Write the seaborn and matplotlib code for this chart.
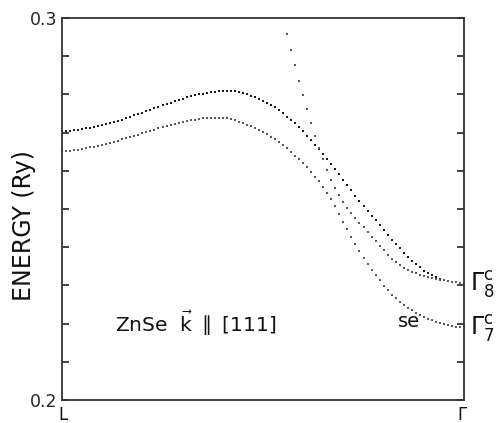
import numpy as np
import pandas as pd
import matplotlib
matplotlib.use("Agg")
import matplotlib.pyplot as plt
import seaborn as sns

# wave-vector along L -> Gamma as fraction of the path (0 = L, 1 = Gamma)
k_full = [round(0.01 * i, 2) for i in range(101)]

# upper conduction band from L (doubly degenerate), ends at Gamma8c
band_upper = [
    0.2704, 0.2704, 0.2705, 0.2706, 0.2707, 0.2709, 0.2711, 0.2713, 0.2715, 0.2717,
    0.2719, 0.2722, 0.2725, 0.2728, 0.2731, 0.2734, 0.2737, 0.2741, 0.2745, 0.2749,
    0.2752, 0.2756, 0.2760, 0.2764, 0.2767, 0.2771, 0.2775, 0.2778, 0.2782, 0.2785,
    0.2789, 0.2792, 0.2795, 0.2798, 0.2800, 0.2802, 0.2804, 0.2806, 0.2807, 0.2808,
    0.2809, 0.2809, 0.2809, 0.2808, 0.2806, 0.2804, 0.2801, 0.2797, 0.2793, 0.2788,
    0.2783, 0.2778, 0.2772, 0.2766, 0.2759, 0.2751, 0.2742, 0.2733, 0.2724, 0.2714,
    0.2703, 0.2692, 0.2680, 0.2668, 0.2656, 0.2644, 0.2631, 0.2618, 0.2604, 0.2591,
    0.2577, 0.2563, 0.2549, 0.2535, 0.2521, 0.2508, 0.2495, 0.2482, 0.2470, 0.2457,
    0.2445, 0.2432, 0.2420, 0.2408, 0.2397, 0.2386, 0.2375, 0.2365, 0.2356, 0.2347,
    0.2339, 0.2333, 0.2327, 0.2322, 0.2318, 0.2315, 0.2312, 0.2310, 0.2308, 0.2307,
    0.2306,
]

# lower conduction band from L, ends at Gamma7c (split-off like, "se")
band_lower = [
    0.2652, 0.2652, 0.2653, 0.2654, 0.2655, 0.2657, 0.2659, 0.2661, 0.2663, 0.2665,
    0.2667, 0.2670, 0.2673, 0.2676, 0.2679, 0.2682, 0.2685, 0.2689, 0.2692, 0.2695,
    0.2699, 0.2702, 0.2705, 0.2708, 0.2711, 0.2714, 0.2717, 0.2720, 0.2723, 0.2726,
    0.2728, 0.2730, 0.2732, 0.2734, 0.2736, 0.2737, 0.2738, 0.2739, 0.2739, 0.2739,
    0.2738, 0.2737, 0.2735, 0.2732, 0.2729, 0.2725, 0.2721, 0.2717, 0.2712, 0.2707,
    0.2702, 0.2696, 0.2689, 0.2682, 0.2675, 0.2667, 0.2659, 0.2650, 0.2640, 0.2630,
    0.2620, 0.2609, 0.2597, 0.2585, 0.2572, 0.2557, 0.2541, 0.2526, 0.2509, 0.2488,
    0.2467, 0.2447, 0.2428, 0.2409, 0.2390, 0.2372, 0.2356, 0.2341, 0.2327, 0.2313,
    0.2299, 0.2287, 0.2276, 0.2266, 0.2257, 0.2249, 0.2242, 0.2235, 0.2229, 0.2223,
    0.2218, 0.2213, 0.2209, 0.2205, 0.2201, 0.2198, 0.2196, 0.2194, 0.2192, 0.2191,
    0.2191,
]

# steep band coming down from higher energy, ends at Gamma8c
k_steep = [round(0.01 * i, 2) for i in range(56, 101)]
band_steep = [
    0.2958, 0.2917, 0.2876, 0.2836, 0.2798, 0.2761, 0.2726, 0.2692, 0.2660, 0.2630,
    0.2602, 0.2577, 0.2555, 0.2536, 0.2519, 0.2503, 0.2489, 0.2476, 0.2464, 0.2452,
    0.2440, 0.2428, 0.2416, 0.2404, 0.2392, 0.2380, 0.2370, 0.2361, 0.2353, 0.2346,
    0.2341, 0.2336, 0.2332, 0.2328, 0.2325, 0.2322, 0.2319, 0.2317, 0.2315, 0.2313,
    0.2311, 0.2310, 0.2308, 0.2307, 0.2306,
]

y_ticks = [0.20, 0.21, 0.22, 0.23, 0.24, 0.25, 0.26, 0.27, 0.28, 0.29, 0.30]
y_tick_labels = ["0.2", "", "", "", "", "", "", "", "", "", "0.3"]

sns.set_style("white")
plt.rcParams["font.family"] = ["DejaVu Sans"]

fig = plt.figure(figsize=(4.98, 4.23), dpi=100)
ax = fig.add_axes([62 / 498, 1 - 400 / 423, 402 / 498, 382 / 423])

df_upper = pd.DataFrame({"k": k_full, "E": band_upper})
df_lower = pd.DataFrame({"k": k_full, "E": band_lower})
df_steep = pd.DataFrame({"k": k_steep, "E": band_steep})

sns.scatterplot(data=df_upper, x="k", y="E", ax=ax, s=2.6, color="#1a1a1a",
                linewidth=0, marker="s", legend=False)
sns.scatterplot(data=df_lower, x="k", y="E", ax=ax, s=1.5, color="#5a5a5a",
                linewidth=0, marker="s", legend=False)
sns.scatterplot(data=df_steep, x="k", y="E", ax=ax, s=1.5, color="#5a5a5a",
                linewidth=0, marker="s", legend=False)

ax.set_xlim(0, 1)
ax.set_ylim(0.2, 0.3)
ax.set_xticks([])
ax.set_yticks(y_ticks)
ax.set_yticklabels(y_tick_labels)
ax.tick_params(axis="y", direction="in", length=5, width=1.2, color="#222222",
               labelsize=12.5, pad=3, right=True, left=True)
ax.set_xlabel("")
ax.set_ylabel("")
for side in ["left", "right", "top", "bottom"]:
    ax.spines[side].set_visible(True)
    ax.spines[side].set_color("#333333")
    ax.spines[side].set_linewidth(1.3)

fig.text(24 / 498, 1 - 226 / 423, "ENERGY (Ry)", rotation=90, ha="center",
         va="center", fontsize=17, color="#111111")

ax.text(0.132, 0.2202, r"ZnSe  $\vec{\mathrm{k}}$ $\parallel$ [111]", ha="left",
        va="center", fontsize=14.5, color="#111111")
ax.text(0.835, 0.2206, "se", ha="left", va="center", fontsize=14, color="#111111")

ax.text(1.015, 0.2303, r"$\Gamma_8^{\mathrm{c}}$", ha="left", va="center",
        fontsize=17, color="#111111", clip_on=False)
ax.text(1.015, 0.2187, r"$\Gamma_7^{\mathrm{c}}$", ha="left", va="center",
        fontsize=17, color="#111111", clip_on=False)

# symmetry point labels under the k axis
fig.text(58 / 498, 1 - 406 / 423, "L", ha="left", va="top", fontsize=12,
         color="#111111")
fig.text(457 / 498, 1 - 406 / 423, r"$\Gamma$", ha="left", va="top", fontsize=12,
         color="#111111")

fig.savefig("out.png", dpi=100)
